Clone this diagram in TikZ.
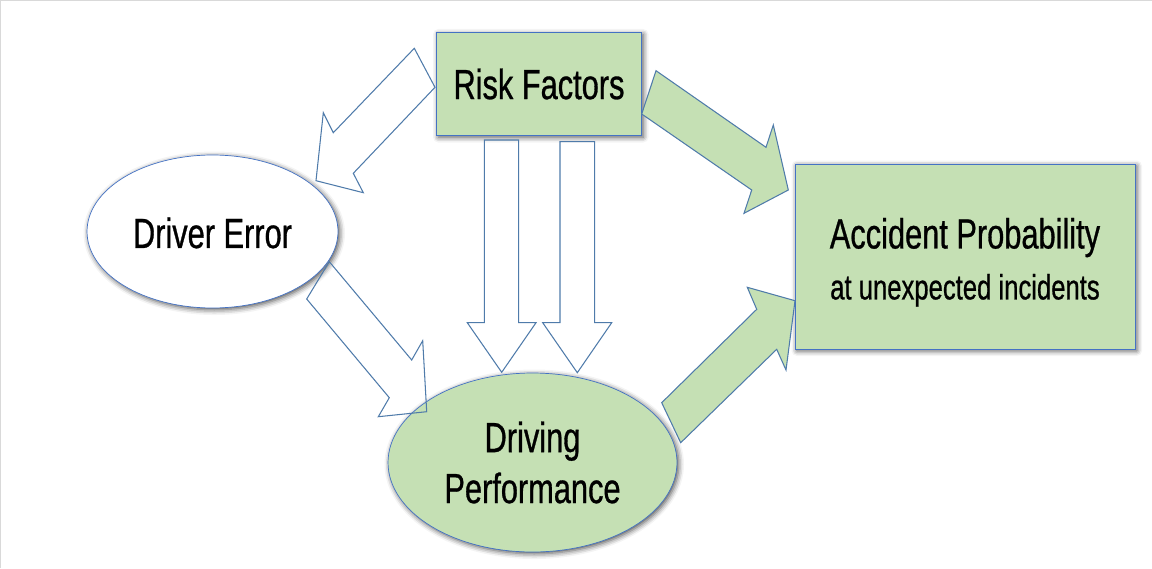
\documentclass[tikz,border=0pt]{standalone}
\usepackage{fontspec}
\setmainfont[FakeStretch=0.73,FakeBold=0.7]{Liberation Sans}
\usetikzlibrary{shapes.geometric,shadows.blur}
\definecolor{boxgreen}{HTML}{C5E0B4}
\definecolor{lineblue}{HTML}{4472C4}
\definecolor{arrowblue}{HTML}{4F7BAA}
\begin{document}
\begin{tikzpicture}[x=0.02cm, y=-0.02cm,
    glow/.style={blur shadow={shadow xshift=1pt, shadow yshift=-1pt, shadow blur radius=3pt, shadow opacity=70}},
    box/.style={draw=lineblue, fill=boxgreen, inner sep=0pt, align=center, glow},
    oval/.style={ellipse, draw=lineblue, inner sep=0pt, align=center, glow},
    hollowarrow/.style={draw=arrowblue, line width=0.6pt, line join=miter},
    greenarrow/.style={draw=arrowblue, fill=boxgreen, line width=0.6pt, line join=miter},
    font=\fontsize{24}{29}\selectfont]
    \useasboundingbox (0,0) rectangle (1152,568);
    % thin grey frame, top and left
    \draw[gray!30, line width=1pt] (0.5,568) -- (0.5,0.5) -- (1152,0.5);
    % the four blocks
    \node[box, minimum width=4.1cm, minimum height=2.06cm] (risk) at (539,84) {Risk Factors};
    \node[box, minimum width=6.8cm, minimum height=3.7cm] (acc) at (965,256.5)
        {\rule{0pt}{24pt}Accident Probability\\{\fontsize{20}{29}\selectfont at unexpected incidents}};
    \node[oval, fill=white, minimum width=5.02cm, minimum height=3.06cm] (err) at (212.5,231.5) {\rule{0pt}{19pt}Driver Error};
    \node[oval, fill=boxgreen, minimum width=5.78cm, minimum height=3.58cm] (perf) at (532.5,462.5) {Driving\\Performance};
    % hollow arrow: risk -> driver error
    \draw[hollowarrow] (414.3,48.3) -- (435,87.3) -- (353.3,173.3) -- (363.3,192.7)
        -- (316,180.7) -- (323.3,112.7) -- (333.3,132.7) -- cycle;
    % hollow arrow: driver error -> driving performance
    \draw[hollowarrow] (329.3,261.7) -- (411.7,360) -- (422.7,340.7) -- (426.7,411.7)
        -- (378.3,416.7) -- (389.3,397.7) -- (306.7,299) -- cycle;
    % two hollow arrows straight down: risk -> driving performance
    \draw[hollowarrow] (484.3,140) -- (518.7,140) -- (518.7,322.7) -- (536,322.7)
        -- (501.7,372.3) -- (467.3,322.7) -- (484.3,322.7) -- cycle;
    \draw[hollowarrow] (560,141.7) -- (594.7,141.7) -- (594.7,322.7) -- (611.7,322.7)
        -- (577.3,372.7) -- (542.7,322.7) -- (560,322.7) -- cycle;
    % green arrows into accident probability
    \draw[greenarrow] (656,70.7) -- (766,147.3) -- (773.3,125) -- (788.3,190)
        -- (744,213.3) -- (751.7,190) -- (641.7,114) -- cycle;
    \draw[greenarrow] (661.7,402.7) -- (756.7,309.3) -- (747.3,287.3) -- (795,300.7)
        -- (786,370) -- (776.7,349.3) -- (680.7,442.7) -- cycle;
\end{tikzpicture}
\end{document}
